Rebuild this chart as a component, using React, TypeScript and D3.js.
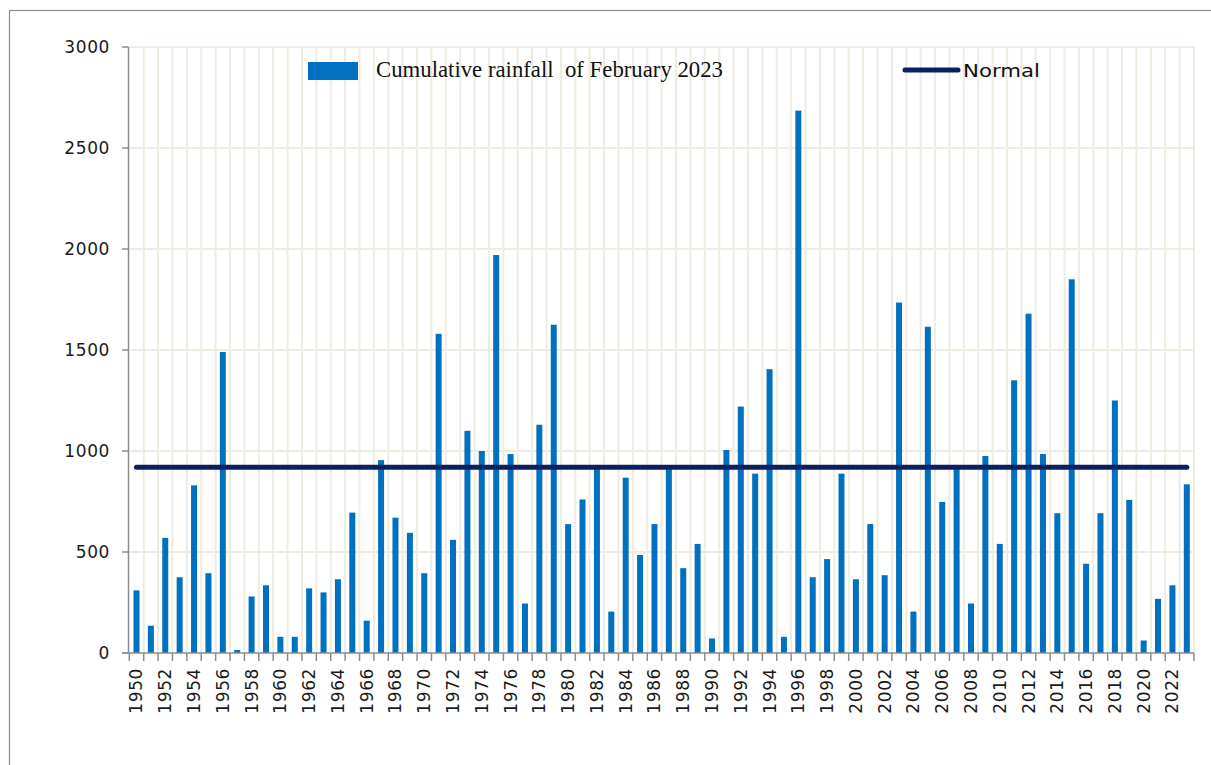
import React from "react";
import * as d3 from "d3";

const years: number[] = [
  1950, 1951, 1952, 1953, 1954, 1955, 1956, 1957, 1958, 1959,
  1960, 1961, 1962, 1963, 1964, 1965, 1966, 1967, 1968, 1969,
  1970, 1971, 1972, 1973, 1974, 1975, 1976, 1977, 1978, 1979,
  1980, 1981, 1982, 1983, 1984, 1985, 1986, 1987, 1988, 1989,
  1990, 1991, 1992, 1993, 1994, 1995, 1996, 1997, 1998, 1999,
  2000, 2001, 2002, 2003, 2004, 2005, 2006, 2007, 2008, 2009,
  2010, 2011, 2012, 2013, 2014, 2015, 2016, 2017, 2018, 2019,
  2020, 2021, 2022, 2023,
];

const rainfall: number[] = [
  310, 135, 570, 375, 830, 395, 1490, 15, 280, 335,
  80, 80, 320, 300, 365, 695, 160, 955, 670, 595,
  395, 1580, 560, 1100, 1000, 1970, 985, 245, 1130, 1625,
  638, 760, 915, 205, 868, 485, 638, 915, 420, 540,
  72, 1005, 1220, 888, 1405, 80, 2685, 375, 465, 888,
  365, 638, 385, 1735, 205, 1615, 748, 910, 245, 975,
  540, 1350, 1680, 985, 692, 1850, 442, 692, 1250, 758,
  62, 268, 335, 835,
];

const normalValue = 920;
const yTicks: number[] = [0, 500, 1000, 1500, 2000, 2500, 3000];
const barLabel = "Cumulative rainfall  of February 2023";
const lineLabel = "Normal";

const W = 1211;
const H = 765;
const left = 129.3;
const right = 1194;
const top = 47;
const bottom = 653;

export default function App() {
  const x = d3
    .scaleBand<number>()
    .domain(years)
    .range([left, right])
    .padding(0);
  const y = d3.scaleLinear().domain([0, 3000]).range([bottom, top]);
  const bw = x.bandwidth();
  const barW = 6;
  const axisColor = "#8c8c8c";
  const gridColor = "#eeebe1";
  const barColor = "#0070c0";
  const navy = "#0a2060";

  const boundaries = years.map((yr) => x(yr) as number).concat([right]);

  return (
    <svg
      width={W}
      height={H}
      style={{ position: "absolute", left: 0, top: 0, background: "#fff" }}
    >
      <rect x={0} y={0} width={W} height={H} fill="#fff" />
      <rect
        x={9.5}
        y={10.5}
        width={1400}
        height={900}
        fill="none"
        stroke="#8c8c8c"
        strokeWidth={1.2}
      />
      {/* grid */}
      {boundaries.slice(1).map((bx, i) => (
        <line
          key={"vg" + i}
          x1={bx}
          x2={bx}
          y1={top}
          y2={bottom}
          stroke={gridColor}
          strokeWidth={2}
        />
      ))}
      {yTicks.slice(1).map((t) => (
        <line
          key={"hg" + t}
          x1={left}
          x2={right}
          y1={y(t)}
          y2={y(t)}
          stroke={gridColor}
          strokeWidth={2}
        />
      ))}
      {/* bars */}
      {years.map((yr, i) => (
        <rect
          key={"b" + yr}
          x={(x(yr) as number) + bw / 2 - barW / 2}
          y={y(rainfall[i])}
          width={barW}
          height={bottom - y(rainfall[i])}
          fill={barColor}
        />
      ))}
      {/* normal line */}
      <line
        x1={(x(years[0]) as number) + bw / 2}
        x2={(x(years[years.length - 1]) as number) + bw / 2}
        y1={y(normalValue)}
        y2={y(normalValue)}
        stroke={navy}
        strokeWidth={5}
        strokeLinecap="round"
      />
      {/* y axis */}
      <line x1={128.5} x2={128.5} y1={top} y2={bottom} stroke={axisColor} strokeWidth={1.5} />
      {yTicks.map((t) => (
        <g key={"yt" + t}>
          <line x1={122} x2={128.5} y1={y(t)} y2={y(t)} stroke={axisColor} strokeWidth={1.5} />
          <text
            x={110}
            y={y(t)}
            textAnchor="end"
            dominantBaseline="central"
            fontFamily="DejaVu Sans"
            fontSize={17}
            letterSpacing={0.6}
            fill="#1a1a1a"
          >
            {t}
          </text>
        </g>
      ))}
      {/* x axis */}
      <line x1={122} x2={right} y1={bottom} y2={bottom} stroke={axisColor} strokeWidth={1.5} />
      {boundaries.map((bx, i) => (
        <line
          key={"xt" + i}
          x1={bx}
          x2={bx}
          y1={bottom}
          y2={bottom + 8}
          stroke={axisColor}
          strokeWidth={1.5}
        />
      ))}
      {years
        .filter((yr) => yr % 2 === 0)
        .map((yr) => {
          const cx = (x(yr) as number) + bw / 2;
          const cy = 668;
          return (
            <text
              key={"xl" + yr}
              transform={`translate(${cx},${cy}) rotate(-90)`}
              textAnchor="end"
              dominantBaseline="central"
              fontFamily="DejaVu Sans"
              fontSize={17}
              letterSpacing={0.6}
              fill="#1a1a1a"
            >
              {yr}
            </text>
          );
        })}
      {/* legend */}
      <rect x={308} y={62} width={50} height={18} fill={barColor} />
      <text
        x={376}
        y={77}
        fontFamily="Liberation Serif"
        fontSize={23}
        fill="#111"
        textLength={347}
        lengthAdjust="spacingAndGlyphs"
        style={{ whiteSpace: "pre" }}
      >
        {barLabel}
      </text>
      <line
        x1={905}
        x2={958}
        y1={70}
        y2={70}
        stroke={navy}
        strokeWidth={5}
        strokeLinecap="round"
      />
      <text
        x={963}
        y={77}
        fontFamily="DejaVu Sans"
        fontSize={18}
        fill="#111"
        textLength={77}
        lengthAdjust="spacingAndGlyphs"
      >
        {lineLabel}
      </text>
    </svg>
  );
}
